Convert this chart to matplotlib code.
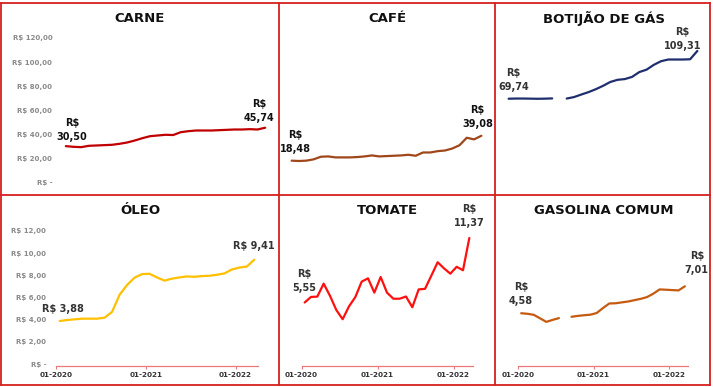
import numpy as np
import matplotlib
matplotlib.use('Agg')
import matplotlib.pyplot as plt
from matplotlib.lines import Line2D

plt.rcParams['font.family'] = ['DejaVu Sans']
plt.rcParams['font.weight'] = 'bold'

W, H = 713, 387

# meses: 01-2020 ate 03-2022
meses = np.arange(27)
xtick_pos = [-0.5, 11.5, 23.5]
xtick_lab = ['01-2020', '01-2021', '01-2022']

carne = [30.50, 29.95, 29.67, 30.78, 31.05, 31.33, 31.60, 32.43, 33.53, 35.18, 37.11, 38.76, 39.32,
         39.90, 39.70, 42.07, 42.90, 43.45, 43.45, 43.45, 43.72, 44.00, 44.27, 44.27, 44.55, 44.27, 45.74]
cafe = [18.48, 18.21, 18.48, 19.56, 21.73, 22.00, 21.19, 21.19, 21.19, 21.46, 22.00, 22.82, 22.00,
        22.27, 22.55, 22.82, 23.36, 22.55, 25.26, 25.26, 26.34, 26.88, 28.51, 31.22, 37.45, 36.10, 39.08]
botijao = [69.74, 69.90, 69.90, 69.80, 69.70, 69.80, 70.00, np.nan, 69.90, 71.10, 73.20, 75.20, 77.60,
           80.40, 83.60, 85.40, 86.00, 87.80, 91.80, 93.80, 97.80, 100.80, 102.20, 102.20, 102.20, 102.40, 109.31]
oleo = [3.88, 3.97, 4.03, 4.09, 4.09, 4.09, 4.18, 4.71, 6.25, 7.13, 7.79, 8.11, 8.14,
        7.81, 7.52, 7.70, 7.81, 7.90, 7.87, 7.93, 7.96, 8.05, 8.17, 8.52, 8.70, 8.79, 9.41]
tomate = [5.55, 6.05, 6.08, 7.25, 6.15, 4.87, 4.04, 5.20, 6.04, 7.43, 7.73, 6.44, 7.85,
          6.44, 5.89, 5.89, 6.09, 5.12, 6.73, 6.78, 7.97, 9.18, 8.63, 8.15, 8.77, 8.46, 11.37]
gasolina = [4.58, 4.53, 4.44, 4.12, 3.80, 3.98, 4.14, np.nan, 4.26, 4.34, 4.40, 4.45, 4.60,
            5.05, 5.46, 5.48, 5.56, 5.64, 5.76, 5.88, 6.04, 6.35, 6.73, 6.70, 6.67, 6.64, 7.01]

ytick_top = [0, 20, 40, 60, 80, 100, 120]
ytick_bot = [0, 2, 4, 6, 8, 10, 12]


def brl(v):
    if v == 0:
        return 'R$ -'
    return 'R$ ' + ('%.2f' % v).replace('.', ',')


def val(v):
    return ('%.2f' % v).replace('.', ',')


# title, data, color, (left, right, top, bottom) px, ymax, yticks?, xaxis?, label colour,
# first label offset, last label offset, one-line labels?
paineis = [
    ('CARNE', carne, '#c00000', (62, 269, 38, 183), 120, True, False, '#111111', (6, 16), (-6, 17), False),
    ('CAFÉ', cafe, '#a0471a', (288, 485, 38, 183), 120, False, False, '#111111', (4, 19), (-4, 19), False),
    ('BOTIJÃO DE GÁS', botijao, '#1f2f6e', (505, 701, 38, 183), 120, False, False, '#333333', (5, 19), (-15, 12), False),
    ('ÓLEO', oleo, '#ffc000', (56, 258, 231, 364), 12, True, True, '#333333', (3, 12), (0, 14), True),
    ('TOMATE', tomate, '#ff1010', (301.5, 472.5, 231, 364), 12, False, True, '#333333', (0, 21), (0, 22), False),
    ('GASOLINA COMUM', gasolina, '#c55a11', (518, 688, 231, 364), 12, False, True, '#333333', (0, 19), (12, 23), False),
]

fig = plt.figure(figsize=(W / 100, H / 100), dpi=100)

for titulo, dados, cor, box, ymax, com_y, com_x, cor_txt, off0, off1, uma_linha in paineis:
    l, r, t, b = box
    ax = fig.add_axes([l / W, 1 - b / H, (r - l) / W, (b - t) / H])
    ax.set_facecolor('none')
    ax.plot(meses, dados, color=cor, lw=1.6, solid_capstyle='round')
    ax.set_xlim(-0.5, 26.5)
    ax.set_ylim(0, ymax)
    for s in ax.spines.values():
        s.set_visible(False)
    yt = ytick_top if ymax == 120 else ytick_bot
    if com_y:
        ax.set_yticks(yt)
        ax.set_yticklabels([brl(v) for v in yt])
        ax.tick_params(axis='y', length=0, pad=7, labelsize=5, labelcolor='#8a8a8a')
    else:
        ax.set_yticks([])
    if com_x:
        ax.spines['bottom'].set_visible(True)
        ax.spines['bottom'].set_color('#e87a7a')
        ax.spines['bottom'].set_linewidth(0.9)
        ax.spines['bottom'].set_position(('outward', 1.5))
        ax.set_xticks(xtick_pos)
        ax.set_xticklabels(xtick_lab)
        ax.tick_params(axis='x', length=2.5, width=0.8, color='#e87a7a', pad=2,
                       labelsize=5.2, labelcolor='#333333')
    else:
        ax.set_xticks([])

    v0, v1 = dados[0], dados[-1]
    if uma_linha:
        t0, t1 = 'R$ ' + val(v0), 'R$ ' + val(v1)
    else:
        t0, t1 = 'R$\n' + val(v0), 'R$\n' + val(v1)
    for xi, v, off, txt in [(meses[0], v0, off0, t0), (meses[-1], v1, off1, t1)]:
        ax.annotate(txt, xy=(xi, v), xytext=off, textcoords='offset pixels',
                    ha='center', va='center', fontsize=7, color=cor_txt,
                    fontweight='bold', linespacing=1.5, annotation_clip=False)

# titulos centralizados em cada quadro
cx = [140, 387, 604]
for i, (titulo, *_rest) in enumerate(paineis):
    x = cx[i % 3]
    y = 19 if i < 3 else 210
    fig.text(x / W, 1 - y / H, titulo, ha='center', va='center', fontsize=9.5,
             fontweight='bold', color='#111111')

# molduras vermelhas
borda = '#d62020'
linhas = [
    ((1, 710), (3, 3)), ((1, 710), (385, 385)), ((1, 1), (3, 385)), ((710, 710), (3, 385)),
    ((1, 710), (195, 195)), ((279, 279), (3, 385)), ((495, 495), (3, 385)),
]
for (x0, x1), (y0, y1) in linhas:
    fig.add_artist(Line2D([x0 / W, x1 / W], [1 - y0 / H, 1 - y1 / H], color=borda, lw=1.3,
                          transform=fig.transFigure))

fig.savefig('out.png', dpi=100, facecolor='white')
